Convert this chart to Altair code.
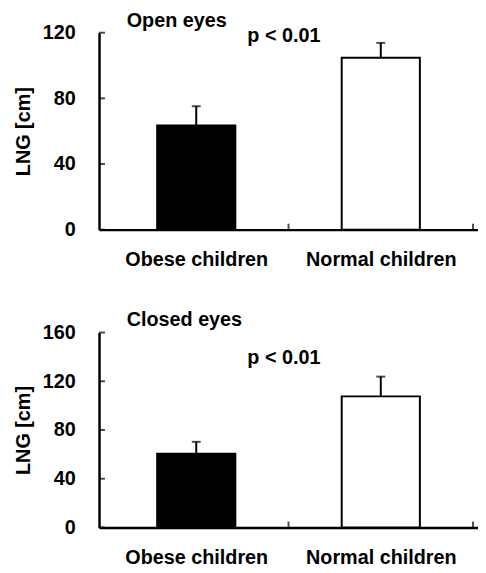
import altair as alt
import pandas as pd

# ---- data ----
groups = ["Obese children", "Normal children"]
group_pos = [0.5, 1.5]
boundaries = [1, 2]
bar_fill = ["#000000", "#ffffff"]

open_mean = [63.5, 104.7]
open_upper = [75.2, 113.8]
open_ticks = [0, 40, 80, 120]

closed_mean = [60.6, 107.6]
closed_upper = [70.3, 123.8]
closed_ticks = [0, 40, 80, 120, 160]

p_text = ["p < 0.01"]
open_p_xy = [0.975, 118]
closed_p_xy = [0.975, 139]

FONT = "Liberation Sans"
FS = 20
W = 383


def panel(title, means, uppers, ticks, p_xy, height, title_offset):
    df = pd.DataFrame({"group": groups, "pos": group_pos,
                       "mean": means, "upper": uppers})
    tick_df = pd.DataFrame({"v": ticks})
    bnd_df = pd.DataFrame({"b": boundaries})
    p_df = pd.DataFrame({"px": [p_xy[0]], "py": [p_xy[1]], "t": p_text})

    label_expr = f"datum.value == {group_pos[0]} ? '{groups[0]}' : '{groups[1]}'"
    xscale = alt.Scale(domain=[0, 2], nice=False, zero=False)
    yscale = alt.Scale(domain=[0, ticks[-1]], nice=False)
    xaxis = alt.Axis(values=group_pos, labelExpr=label_expr, ticks=False, tickSize=0,
                     grid=False, domainColor="black", domainWidth=2.5,
                     labelPadding=20, labelFont=FONT, labelFontSize=FS,
                     labelFontWeight="bold", labelColor="black", title=None,
                     labelFlush=False, labelOverlap=False)
    yaxis = alt.Axis(values=ticks, ticks=False, tickSize=0, grid=False,
                     domainColor="black", domainWidth=2.5, labelPadding=24,
                     labelFont=FONT, labelFontSize=FS, labelFontWeight="bold",
                     labelColor="black", title="LNG [cm]", titleFont=FONT,
                     titleFontSize=FS, titleFontWeight="bold", titleColor="black",
                     titlePadding=9)

    bars = alt.Chart(df).mark_bar(size=79, stroke="black", strokeWidth=2).encode(
        x=alt.X("pos:Q", scale=xscale, axis=xaxis),
        y=alt.Y("mean:Q", scale=yscale, axis=yaxis),
        fill=alt.Fill("group:N", scale=alt.Scale(domain=groups, range=bar_fill), legend=None),
    )
    err = alt.Chart(df).mark_rule(color="black", strokeWidth=2).encode(
        x=alt.X("pos:Q", scale=xscale, axis=xaxis),
        y=alt.Y("mean:Q", scale=yscale, axis=yaxis),
        y2="upper:Q",
    )
    cap = alt.Chart(df).mark_tick(orient="horizontal", size=9, thickness=2, color="black").encode(
        x=alt.X("pos:Q", scale=xscale, axis=xaxis),
        y=alt.Y("upper:Q", scale=yscale, axis=yaxis),
    )
    ytk = alt.Chart(tick_df).mark_tick(orient="horizontal", size=6, thickness=2, color="black").encode(
        y=alt.Y("v:Q", scale=yscale, axis=yaxis),
        x=alt.value(3),
    )
    xtk = alt.Chart(bnd_df).mark_tick(orient="vertical", size=6, thickness=2, color="black").encode(
        x=alt.X("b:Q", scale=xscale, axis=xaxis),
        y=alt.value(height - 3),
    )
    ptxt = alt.Chart(p_df).mark_text(font=FONT, fontSize=FS, fontWeight="bold", color="black").encode(
        x=alt.X("px:Q", scale=xscale, axis=xaxis),
        y=alt.Y("py:Q", scale=yscale, axis=yaxis),
        text="t:N",
    )
    return alt.layer(bars, err, cap, ytk, xtk, ptxt).properties(
        width=W, height=height,
        title=alt.TitleParams(text=title, anchor="start", frame="group", dx=28,
                              offset=title_offset, font=FONT, fontSize=FS,
                              fontWeight="bold", color="black"),
    )


top = panel("Open eyes", open_mean, open_upper, open_ticks, open_p_xy, 199, -8)
bottom = panel("Closed eyes", closed_mean, closed_upper, closed_ticks, closed_p_xy, 197, -7)

chart = alt.vconcat(top, bottom, spacing=41).properties(
    padding={"left": 5, "top": 0, "right": 0, "bottom": 0}
).configure_view(stroke=None)

chart.save("out.html", embed_options={"renderer": "svg", "actions": False})
